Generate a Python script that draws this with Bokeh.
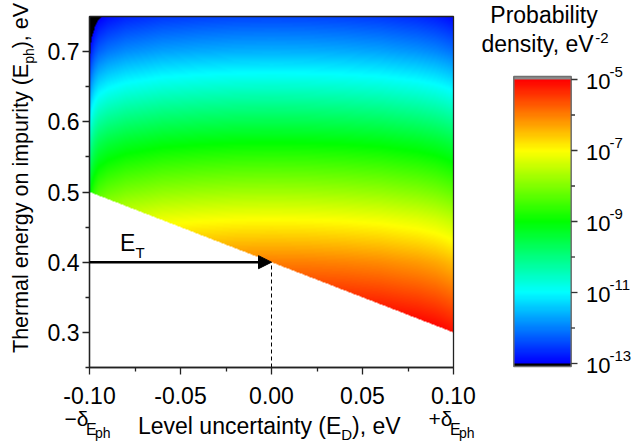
import math
import numpy as np
from bokeh.plotting import figure
from bokeh.models import (Range1d, LinearColorMapper, FixedTicker, NumeralTickFormatter,
                          LinearAxis, Arrow, NormalHead)
from bokeh.embed import file_html
from bokeh.resources import INLINE
from bokeh.core.properties import value

# ---------------- data ----------------
E_T = 0.40                      # trap level, eV
ed_range = [-0.10, 0.10]        # level uncertainty range (E_D), eV  (+/- delta_Eph)
eph_range = [0.25, 0.75]        # thermal energy range (E_ph), eV
ed_zero = 0.0

x_ticks = [-0.10, -0.05, 0.00, 0.05, 0.10]
x_minor = [-0.075, -0.025, 0.025, 0.075]
y_ticks = [0.3, 0.4, 0.5, 0.6, 0.7]
y_minor = [0.25, 0.35, 0.45, 0.55, 0.65]

# log10(probability density) along the centre column (E_D = 0)
center_eph = [0.25, 0.30, 0.35, 0.40, 0.46, 0.50, 0.57, 0.60, 0.67, 0.70, 0.75]
center_logp = [-3.90, -4.60, -5.30, -6.00, -7.00, -7.75, -9.00, -9.60, -11.00, -11.60, -12.45]

# drop of log10(density) towards the edges of the E_D range
edge_ed = [-0.1000, -0.0995, -0.0990, -0.0970, -0.0950, -0.0900, -0.0800, -0.0600, -0.0400,
           -0.0200, 0.0000, 0.0200, 0.0400, 0.0600, 0.0800, 0.0900, 0.0950, 0.0970, 0.0990,
           0.0995, 0.1000]
edge_drop = [-1.60, -1.35, -1.10, -0.80, -0.62, -0.45, -0.28, -0.12, -0.05,
             -0.01, 0.00, -0.01, -0.04, -0.10, -0.22, -0.32, -0.40, -0.44, -0.48,
             -0.50, -0.52]

cbar_low, cbar_high = -13, -5
cbar_ticks = [-13, -11, -9, -7, -5]
cbar_minor = [-12, -10, -8, -6]

# ---------------- field ----------------
nx, ny = 364, 351
ed = ed_range[0] + (np.arange(nx) + 0.5) * (ed_range[1] - ed_range[0]) / nx
eph = eph_range[0] + (np.arange(ny) + 0.5) * (eph_range[1] - eph_range[0]) / ny
base = np.interp(eph, center_eph, center_logp)
drop = np.interp(ed, edge_ed, edge_drop)
Z = (base[:, None] + drop[None, :]).astype(np.float32)
Z[eph[:, None] < (E_T - ed[None, :])] = np.nan

# rainbow palette blue-cyan-green-yellow-red
anchors = [(0, 0, 255), (0, 255, 255), (0, 255, 0), (255, 255, 0), (255, 0, 0)]
palette = []
for i in range(256):
    t = i / 255 * 4
    k = min(int(t), 3)
    f = t - k
    c = [round(anchors[k][j] * (1 - f) + anchors[k + 1][j] * f) for j in range(3)]
    palette.append("#%02x%02x%02x" % tuple(c))

mapper = LinearColorMapper(palette=palette, low=cbar_low, high=cbar_high,
                           low_color="black", high_color="#8c8c8c", nan_color=(0, 0, 0, 0))

FONT = "Liberation Sans"

# ---------------- layout (pixels) ----------------
W, H = 634, 445
FX0, FX1, FY0, FY1 = 89, 453, 16, 367          # data area in pixels
SX = (FX1 - FX0) / (ed_range[1] - ed_range[0])
SY = (FY1 - FY0) / (eph_range[1] - eph_range[0])
BSH = 0.4                                        # baseline correction (em)


def mx(px):
    return ed_range[0] + (px - FX0) / SX


def my(py):
    return eph_range[1] - (py - FY0) / SY


CB_T, CB_B = 79, 363                            # colour bar 1e-5 .. 1e-13 in pixels
DEC = (CB_B - CB_T) / (cbar_high - cbar_low)


def cy(py):
    return cbar_high - (py - CB_T) / DEC


p = figure(width=W, height=H, x_range=Range1d(mx(0), mx(W)), y_range=Range1d(my(H), my(0)),
           x_axis_location=None, y_axis_location=None, min_border=0,
           output_backend="svg", toolbar_location=None)
p.extra_y_ranges = {"cb": Range1d(cy(H), cy(0))}
p.grid.visible = False
p.outline_line_color = None
p.background_fill_color = "white"
p.border_fill_color = "white"

# heat map
p.image(image=[Z], x=ed_range[0], y=eph_range[0], dw=ed_range[1] - ed_range[0],
        dh=eph_range[1] - eph_range[0], color_mapper=mapper)
p.quad(left=[ed_range[0]], right=[ed_range[1]], bottom=[eph_range[0]], top=[eph_range[1]],
       fill_color=None, line_color="#222222", line_width=1.3)

xax = LinearAxis(fixed_location=eph_range[0], bounds=tuple(ed_range),
                 ticker=FixedTicker(ticks=x_ticks, minor_ticks=x_minor),
                 formatter=NumeralTickFormatter(format="0.00"))
yax = LinearAxis(fixed_location=ed_range[0], bounds=tuple(eph_range),
                 ticker=FixedTicker(ticks=y_ticks, minor_ticks=y_minor),
                 formatter=NumeralTickFormatter(format="0.0"))
for ax in (xax, yax):
    ax.major_tick_in = 0
    ax.major_tick_out = 7
    ax.minor_tick_in = 0
    ax.minor_tick_out = 4
    ax.major_tick_line_color = "#222222"
    ax.minor_tick_line_color = "#222222"
    ax.major_tick_line_width = 1.3
    ax.minor_tick_line_width = 1.3
    ax.axis_line_color = "#222222"
    ax.axis_line_width = 1.3
    ax.major_label_text_font = FONT
    ax.major_label_text_font_size = "23px"
    ax.major_label_text_color = "black"
xax.major_label_standoff = 12
yax.major_label_standoff = 3
p.add_layout(xax, "below")
p.add_layout(yax, "left")

# dashed drop line and E_T arrow
p.segment(x0=[ed_zero], y0=[eph_range[0]], x1=[ed_zero], y1=[E_T],
          line_color="black", line_width=1, line_dash="4 3")
p.add_layout(Arrow(x_start=ed_range[0], y_start=E_T, x_end=ed_zero, y_end=E_T,
                   line_color="black", line_width=2.5,
                   end=NormalHead(size=13, fill_color="black", line_color="black", line_width=1)))


def txt(px, py, s, size, align="left"):
    """horizontal text; (px, py) = left end of the baseline in pixels"""
    p.text(x=[mx(px)], y=[my(py - BSH * size)], text=[s], text_font=value(FONT),
           text_font_size="%gpx" % size, text_color="black", text_align=align,
           text_baseline="alphabetic")


def vtxt(px, py, s, size):
    """text rotated 90 deg; px = baseline x, py = start of the text"""
    p.text(x=[mx(px - BSH * size)], y=[my(py)], text=[s], angle=math.pi / 2,
           text_font=value(FONT), text_font_size="%gpx" % size, text_color="black",
           text_align="left", text_baseline="alphabetic")


# y axis title (rotated) with subscript
YL = 21.5
w1 = 13.448 * YL
w2 = 1.112 * 14
vtxt(29.5, 352.5, "Thermal energy on impurity (E", YL)
vtxt(34.5, 352.5 - w1, "ph", 14)
vtxt(29.5, 352.5 - w1 - w2, "), eV", YL)

# x axis title with subscript
wx1 = 8.837 * 23
txt(137.5, 435, "Level uncertainty (E", 23)
txt(137.5 + wx1, 440, "D", 15)
txt(137.5 + wx1 + 10.8, 435, "), eV", 23)

# -delta / +delta labels under the ends of the x axis
for sign, shift in (("\u2212\u03b4", 0), ("+\u03b4", FX1 - FX0)):
    txt(64 + shift, 426, sign, 21)
    txt(85.5 + shift, 435, "E", 16)
    txt(94.5 + shift, 438, "ph", 14)

# E_T label
txt(119.5, 252, "E", 23)
txt(135.0, 258, "T", 15)

# ---------------- colour bar ----------------
ext = 3 / DEC
CBL, CBR = 513.3, 570.7
vals = np.linspace(cbar_low - ext, cbar_high + ext, 1000).astype(np.float32)[:, None]
p.image(image=[vals], x=mx(CBL), y=cbar_low - ext, dw=(CBR - CBL) / SX,
        dh=cbar_high - cbar_low + 2 * ext, color_mapper=mapper, y_range_name="cb")
p.quad(left=[mx(CBL)], right=[mx(CBR)], bottom=[cbar_low - ext], top=[cbar_high + ext],
       fill_color=None, line_color="#707070", line_width=1.5, y_range_name="cb")
p.segment(x0=[mx(CBR)] * len(cbar_ticks), y0=cbar_ticks, x1=[mx(577)] * len(cbar_ticks),
          y1=cbar_ticks, line_color="#333333", line_width=1.3, y_range_name="cb")
p.segment(x0=[mx(CBR)] * len(cbar_minor), y0=cbar_minor, x1=[mx(574.5)] * len(cbar_minor),
          y1=cbar_minor, line_color="#333333", line_width=1.3, y_range_name="cb")
p.text(x=[mx(585.5)] * len(cbar_ticks), y=[t - (11 - BSH * 22) / DEC for t in cbar_ticks],
       text=["10"] * len(cbar_ticks), text_font=value(FONT), text_font_size="22px",
       text_baseline="alphabetic", text_align="left", text_color="black", y_range_name="cb")
p.text(x=[mx(609.0)] * len(cbar_ticks), y=[t + (2 + BSH * 15) / DEC for t in cbar_ticks],
       text=["%d" % t for t in cbar_ticks], text_font=value(FONT), text_font_size="15px",
       text_baseline="alphabetic", text_align="left", text_color="black", y_range_name="cb")

txt(543.5, 24, "Probability", 23, align="center")
txt(481, 53, "density, eV", 23)
txt(481 + 4.947 * 23, 43, "-2", 15)

open("out.html", "w").write(file_html(p, INLINE))
